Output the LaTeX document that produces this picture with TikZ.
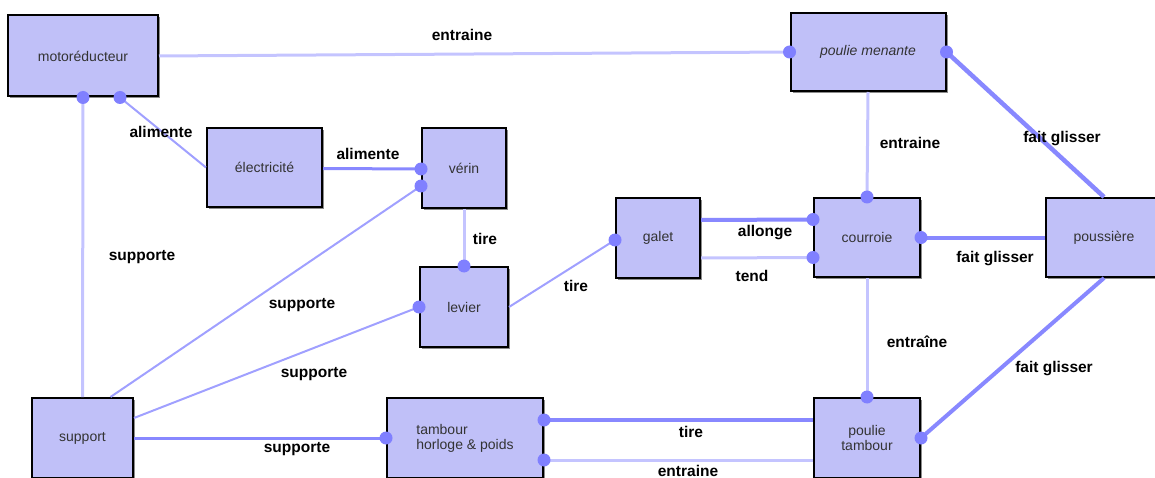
\documentclass[tikz,border=0pt]{standalone}
\usepackage{fontspec}
\setmainfont{Liberation Sans}
\usetikzlibrary{shadows}

\begin{document}
\begin{tikzpicture}[x=1pt, y=-1pt,
  box/.style={draw=black, line width=2pt, fill=boxfill, inner sep=2pt,
    font=\fontsize{14}{15}\selectfont, text=black!80,
    drop shadow={shadow xshift=2pt, shadow yshift=-2pt, fill=black!45, opacity=1}},
  lnk/.style={linklight, line width=3pt},
  lnkm/.style={linkmid, line width=2pt},
  lnkt/.style={linkdark, line width=4pt},
  dot/.style={fill=dotfill},
  lab/.style={font=\bfseries\fontsize{15.5}{16}\selectfont, text=black}]
  \definecolor{boxfill}{RGB}{192,192,248}
  \definecolor{linklight}{RGB}{196,196,255}
  \definecolor{linkmid}{RGB}{160,160,255}
  \definecolor{linkdark}{RGB}{136,136,255}
  \definecolor{dotfill}{RGB}{128,128,255}

  \useasboundingbox (0,0) rectangle (1155,478);

  \node[box, minimum width=150pt, minimum height=81pt] (mot) at (83,56) {motoréducteur};
  \node[box, minimum width=115pt, minimum height=79pt] (ele) at (264.5,167.5) {électricité};
  \node[box, minimum width=84pt, minimum height=80pt] (ver) at (464,168) {vérin};
  \node[box, minimum width=88pt, minimum height=80pt] (lev) at (464,307) {levier};
  \node[box, minimum width=84pt, minimum height=80pt] (gal) at (658,238) {galet};
  \node[box, minimum width=155pt, minimum height=78pt] (pme) at (868,52) {\itshape poulie menante};
  \node[box, minimum width=106pt, minimum height=79pt] (cou) at (867,237.5) {courroie};
  \node[box, minimum width=116pt, minimum height=79pt] (pou) at (1104,237.5) {poussière};
  \node[box, minimum width=101pt, minimum height=80pt] (sup) at (82.5,438) {support};
  \node[box, minimum width=156pt, minimum height=80pt, align=left] (tam) at (465,438) {tambour\\horloge \& poids};
  \node[box, minimum width=106pt, minimum height=80pt, align=center] (ptb) at (867,438) {poulie\\tambour};

  % liaisons
  \draw[lnk] (mot.east) -- (pme.west) coordinate (d1);
  \draw[lnkm] (ele.west) -- ([xshift=37pt]mot.south) coordinate (d2);
  \draw[lnkt, line width=3pt] ([yshift=-1pt]ele.east) -- ([yshift=-1pt]ver.west) coordinate (d3);
  \draw[lnk] (sup.north) -- (mot.south) coordinate (d4);
  \draw[lnkm] ([xshift=28pt]sup.north) -- ([yshift=-18pt]ver.west) coordinate (d5);
  \draw[lnkm] ([yshift=20pt]sup.east) -- (lev.west) coordinate (d6);
  \draw[lnkt, line width=3pt] (sup.east) -- (tam.west) coordinate (d7);
  \draw[lnk] (ver.south) -- (lev.north) coordinate (d8);
  \draw[lnkm] (lev.east) -- ([yshift=-2pt]gal.west) coordinate (d9);
  \draw[lnkt] ([yshift=18pt]gal.east) -- ([yshift=18pt]cou.west) coordinate (d10);
  \draw[lnk] ([yshift=-20pt]gal.east) -- ([yshift=-20pt]cou.west) coordinate (d11);
  \draw[lnk] (pme.south) -- (cou.north) coordinate (d12);
  \draw[lnkt, line width=4.5pt] (pou.north) -- (pme.east) coordinate (d13);
  \draw[lnkt] (pou.west) -- (cou.east) coordinate (d14);
  \draw[lnkt] (pou.south) -- (ptb.east) coordinate (d15);
  \draw[lnk] (cou.south) -- (ptb.north) coordinate (d16);
  \draw[lnkt, line width=4.5pt] ([yshift=18pt]ptb.west) -- ([yshift=18pt]tam.east) coordinate (d17);
  \draw[lnk] ([yshift=-22pt]ptb.west) -- ([yshift=-22pt]tam.east) coordinate (d18);

  \foreach \i in {1,...,18}
    \fill[dot] (d\i) circle[radius=6.5pt];

  % libellés
  \node[lab] (lEntrMot) at (462,35) {entraine};
  \node[lab] (lAlimMot) at (161,132) {alimente};
  \node[lab] (lAlimVer) at (368,154) {alimente};
  \node[lab] (lSupMot) at (142,257) {supporte};
  \node[lab] (lSupVer) at (302,305) {supporte};
  \node[lab] (lSupLev) at (314,374) {supporte};
  \node[lab] (lSupTam) at (297,449) {supporte};
  \node[lab] (lTireLev) at (485,239) {tire};
  \node[lab] (lTireGal) at (576,286) {tire};
  \node[lab] (lAllonge) at (765,233) {allonge};
  \node[lab] (lTend) at (752,276) {tend};
  \node[lab] (lEntrCou) at (910,143) {entraine};
  \node[lab] (lGlisPme) at (1062,139) {fait glisser};
  \node[lab] (lGlisCou) at (995,259) {fait glisser};
  \node[lab] (lEntrPtb) at (917,342) {entraîne};
  \node[lab] (lGlisPtb) at (1054,369) {fait glisser};
  \node[lab] (lTireTam) at (691,432) {tire};
  \node[lab] (lEntrTam) at (688,471) {entraine};
\end{tikzpicture}
\end{document}
